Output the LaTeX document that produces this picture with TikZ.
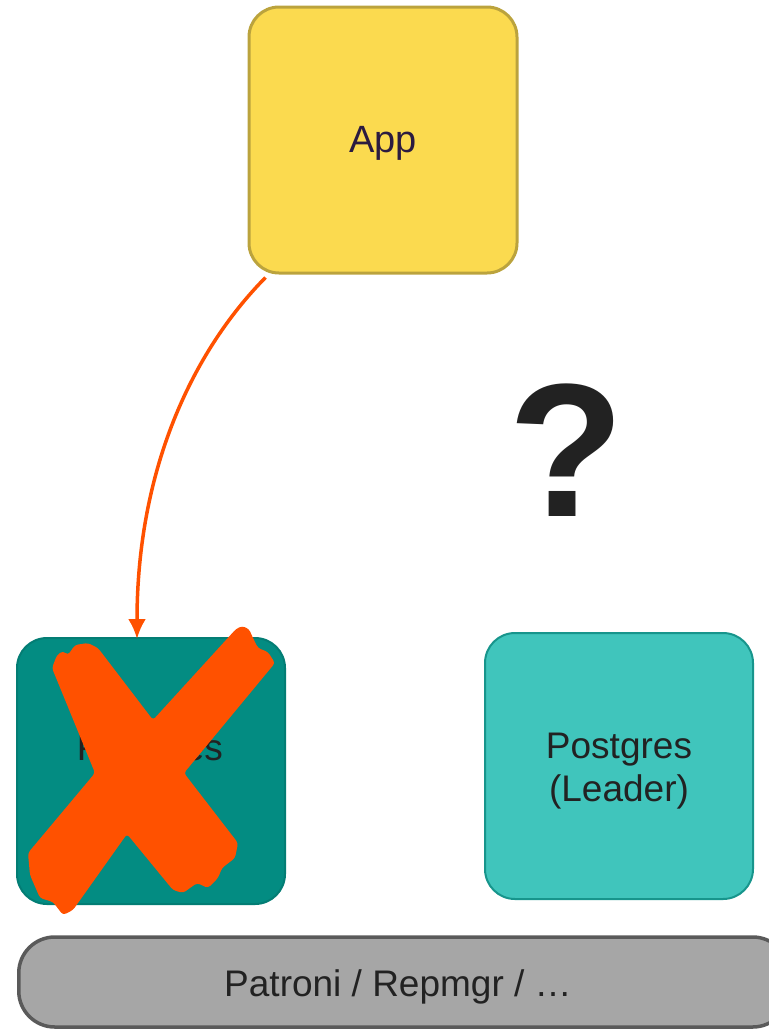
\documentclass[tikz,border=0pt]{standalone}
\usepackage{fontspec}
\setmainfont{Liberation Sans}
\usetikzlibrary{arrows.meta}
\definecolor{appfill}{HTML}{FBDA4F}
\definecolor{appdraw}{HTML}{BBA33D}
\definecolor{apptext}{HTML}{2B1B40}
\definecolor{deadfill}{HTML}{038C82}
\definecolor{deaddraw}{HTML}{037D74}
\definecolor{leadfill}{HTML}{40C5BC}
\definecolor{leaddraw}{HTML}{17958C}
\definecolor{barfill}{HTML}{A6A6A6}
\definecolor{bardraw}{HTML}{5A5A5A}
\definecolor{darktext}{HTML}{222222}
\definecolor{alarm}{HTML}{FF5100}
\tikzset{
  box/.style={rectangle, rounded corners=30pt, minimum width=268pt, minimum height=266pt, inner sep=0pt, line width=2pt, align=center, text=darktext, font=\fontsize{37}{43}\selectfont},
  label37/.style={text=darktext, font=\fontsize{37}{43}\selectfont, inner sep=0pt, align=center},
  cross/.style={fill=alarm, rounded corners=3pt},
  conn/.style={alarm, line width=3.5pt, -{Latex[length=20pt,width=18pt]}}
}
\begin{document}
\begin{tikzpicture}[x=1pt,y=-1pt]
\useasboundingbox (0,0) rectangle (769,1029);
\clip (0,0) rectangle (769,1029);
\node[box, fill=appfill, draw=appdraw, line width=3pt] (app) at (383,140) {};
\node[label37, text=apptext, font=\fontsize{38}{43}\selectfont] (apptext) at (383,143) {App};
\node[box, fill=deadfill, draw=deaddraw] (pgl) at (151,771) {};
\node[label37] (pgltext) at (150,752) {Postgres};
\node[box, fill=leadfill, draw=leaddraw] (pgr) at (619,766) {};
\node[label37] (pgrtext) at (619,771) {Postgres\\(Leader)};
\node[rectangle, rounded corners=36pt, minimum width=770pt, minimum height=90pt, inner sep=0pt, fill=barfill, draw=bardraw, line width=3.5pt, anchor=west] (bar) at (17,982) {};
\node[label37] (barlabel) at (398,987) {Patroni / Repmgr / …};
\node[text=darktext, font=\bfseries\fontsize{190}{200}\selectfont, inner sep=0pt] (q) at (567,450) {?};
\draw[conn] ([xshift=18pt,yshift=-3pt]app.south west) .. controls (192,352) and (137,470) .. ([xshift=-14pt,yshift=-2pt]pgl.north);
% the cross over the failed node
\fill[cross] (52,668) -- (57,655) -- (63,651) -- (68,655) -- (75,645) -- (88,643) -- (98,648)
  -- (153,720)
  -- (236,629) -- (242,626) -- (249,629) -- (253,638) -- (258,648) -- (268,652) -- (275,663)
  -- (184,773)
  -- (238,843) -- (235,858) -- (222,868) -- (218,878) -- (208,888) -- (197,883) -- (183,893) -- (173,890)
  -- (127,834)
  -- (73,910) -- (63,915) -- (53,902) -- (40,898) -- (30,875) -- (28,853)
  -- (95,773)
  -- cycle;
\end{tikzpicture}
\end{document}
